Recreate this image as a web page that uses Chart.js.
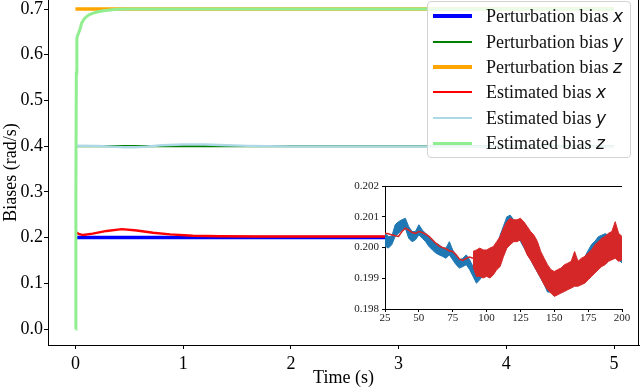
<!DOCTYPE html>
<html>
<head>
<meta charset="utf-8">
<script src="https://cdn.jsdelivr.net/npm/chart.js@4/dist/chart.umd.min.js"></script>
<style>
html,body{margin:0;padding:0;background:#fff;}
#wrap{position:relative;width:640px;height:387px;overflow:hidden;background:#fff;}
#main{position:absolute;left:0;top:0;}
#inset{position:absolute;left:340px;top:176px;}
#legend{position:absolute;left:427px;top:1px;width:204px;height:157px;border:1px solid #d3d3d3;border-radius:4px;background:rgba(255,255,255,0.8);box-sizing:border-box;}
.lrow{position:absolute;left:0;width:200px;height:22px;}
.lsample{position:absolute;left:5px;width:39px;}
.ltext{position:absolute;left:58px;top:0;height:22px;line-height:22px;font-family:"Liberation Serif","Times New Roman",serif;font-size:18px;color:#111;white-space:nowrap;}
.lvar{font-family:"DejaVu Sans",sans-serif;font-style:italic;font-size:17px;}
</style>
</head>
<body>
<div id="wrap">
  <canvas id="main" width="640" height="387"></canvas>
  <canvas id="inset" width="295" height="150"></canvas>
  <div id="legend"></div>
</div>
<script>
// ---------- main chart data ----------
const seriesNames = ['Perturbation bias', 'Perturbation bias', 'Perturbation bias', 'Estimated bias', 'Estimated bias', 'Estimated bias'];
const seriesVars = ['x', 'y', 'z', 'x', 'y', 'z'];
const seriesColors = ['#0000ff', '#008000', '#ffa500', '#ff0000', '#add8e6', '#90ee90'];

const xTicks = [0, 1, 2, 3, 4, 5];
const yTicks = [0.0, 0.1, 0.2, 0.3, 0.4, 0.5, 0.6, 0.7];

const pertT = [0, 5];
const pertX = [0.2, 0.2];
const pertY = [0.4, 0.4];
const pertZ = [0.7, 0.7];

const estXT = [0, 0.03, 0.07, 0.16, 0.29, 0.43, 0.57, 0.72, 0.88, 1.09, 1.34, 1.7, 2.2, 3, 4, 5];
const estX  = [0.212, 0.208, 0.2055, 0.2085, 0.2145, 0.2185, 0.2155, 0.2105, 0.207, 0.204, 0.203, 0.2025, 0.2025, 0.2025, 0.2025, 0.2025];

const estYT = [0, 0.2, 0.35, 0.45, 0.55, 0.65, 0.8, 1.0, 1.2, 1.4, 1.6, 2.0, 2.5, 3, 4, 5];
const estY  = [0.401, 0.4005, 0.399, 0.3975, 0.3975, 0.399, 0.402, 0.4035, 0.4035, 0.402, 0.4005, 0.3995, 0.3995, 0.3995, 0.3995, 0.3995];

const estZT = [0, 0.004, 0.008, 0.013, 0.02, 0.03, 0.045, 0.057, 0.08, 0.1, 0.13, 0.165, 0.21, 0.26, 0.32, 0.38, 0.5, 0.7, 1, 2, 3, 4, 5];
const estZ  = [0, 0.3, 0.56, 0.636, 0.642, 0.648, 0.658, 0.669, 0.678, 0.683, 0.688, 0.691, 0.694, 0.696, 0.698, 0.6995, 0.7, 0.7, 0.7, 0.7, 0.7, 0.7, 0.7];

// ---------- inset data ----------
const insetXTicks = [25, 50, 75, 100, 125, 150, 175, 200];
const insetYTicks = [0.198, 0.199, 0.200, 0.201, 0.202];

const blueT = [25, 27.5, 30, 32.5, 35, 37.5, 40, 42.5, 45, 47.5, 50, 52.5, 55, 57.5, 60, 62.5, 65, 67.5, 70, 72.5, 75, 77.5, 80, 82.5, 85, 87.5, 90, 92.5, 95, 97.5, 100, 102.5, 105, 107.5, 110, 112.5, 115, 117.5, 120, 122.5, 125, 127.5, 130, 132.5, 135, 137.5, 140, 142.5, 145, 147.5, 150, 152.5, 155, 157.5, 160, 162.5, 165, 167.5, 170, 172.5, 175, 177.5, 180, 182.5, 185, 187.5, 190, 192.5, 195, 197.5, 200];
const blueHi = [0.20046, 0.20036, 0.20036, 0.20074, 0.20084, 0.20090, 0.20095, 0.20068, 0.20052, 0.20052, 0.20074, 0.20057, 0.20046, 0.20036, 0.20025, 0.20014, 0.20009, 0.19998, 0.19998, 0.20019, 0.19992, 0.19976, 0.19960, 0.19965, 0.19976, 0.19960, 0.19938, 0.19922, 0.19938, 0.19950, 0.19960, 0.19970, 0.19980, 0.20000, 0.20040, 0.20070, 0.20100, 0.20105, 0.20090, 0.20080, 0.20070, 0.20050, 0.20030, 0.20010, 0.19990, 0.19970, 0.19950, 0.19930, 0.19900, 0.19890, 0.19890, 0.19900, 0.19910, 0.19920, 0.19930, 0.19940, 0.19940, 0.19940, 0.19950, 0.19970, 0.19990, 0.20010, 0.20020, 0.20035, 0.20040, 0.20045, 0.20040, 0.20030, 0.20020, 0.20010, 0.20000];
const blueLo = [0.20005, 0.19998, 0.20009, 0.20036, 0.20046, 0.20057, 0.20063, 0.20030, 0.20019, 0.20025, 0.20041, 0.20030, 0.20019, 0.20003, 0.19992, 0.19982, 0.19976, 0.19971, 0.19965, 0.19976, 0.19960, 0.19944, 0.19933, 0.19938, 0.19944, 0.19928, 0.19906, 0.19884, 0.19895, 0.19910, 0.19915, 0.19920, 0.19930, 0.19950, 0.19990, 0.20020, 0.20050, 0.20050, 0.20040, 0.20030, 0.20020, 0.20000, 0.19980, 0.19960, 0.19940, 0.19920, 0.19900, 0.19880, 0.19855, 0.19855, 0.19860, 0.19865, 0.19870, 0.19880, 0.19890, 0.19900, 0.19900, 0.19900, 0.19910, 0.19930, 0.19950, 0.19970, 0.19980, 0.19995, 0.20000, 0.20005, 0.20000, 0.19990, 0.19970, 0.19960, 0.19950];

const redSmoothT = [25, 27.5, 30, 32.5, 35, 37.5, 40, 42.5, 45, 47.5, 50, 52.5, 55, 57.5, 60, 62.5, 65, 67.5, 70, 72.5, 75, 77.5, 80, 82.5, 85, 87.5, 90];
const redSmooth  = [0.20046, 0.20045, 0.20041, 0.20038, 0.20036, 0.20052, 0.20063, 0.20057, 0.20049, 0.20046, 0.20052, 0.20049, 0.20043, 0.20036, 0.20025, 0.20014, 0.20005, 0.20000, 0.19996, 0.19989, 0.19987, 0.19976, 0.19962, 0.19958, 0.19965, 0.19969, 0.19965];

const redBandT = [90, 92.5, 95, 97.5, 100, 102.5, 105, 107.5, 110, 112.5, 115, 117.5, 120, 122.5, 125, 127.5, 130, 132.5, 135, 137.5, 140, 142.5, 145, 147.5, 150, 152.5, 155, 157.5, 160, 162.5, 165, 167.5, 170, 172.5, 175, 177.5, 180, 182.5, 185, 187.5, 190, 192.5, 195, 197.5, 200];
const redHi = [0.19987, 0.19992, 0.19998, 0.19992, 0.19992, 0.19998, 0.20003, 0.20019, 0.20036, 0.20063, 0.20084, 0.20095, 0.20090, 0.20090, 0.20095, 0.20084, 0.20068, 0.20052, 0.20040, 0.20020, 0.19987, 0.19965, 0.19944, 0.19928, 0.19922, 0.19928, 0.19933, 0.19944, 0.19949, 0.19955, 0.19987, 0.19955, 0.19965, 0.19971, 0.19982, 0.19992, 0.20009, 0.20019, 0.20030, 0.20036, 0.20046, 0.20052, 0.20084, 0.20046, 0.20036];
const redLo = [0.19938, 0.19906, 0.19906, 0.19901, 0.19906, 0.19901, 0.19911, 0.19928, 0.19938, 0.19971, 0.19998, 0.20009, 0.20019, 0.20019, 0.20025, 0.20003, 0.19976, 0.19960, 0.19940, 0.19920, 0.19901, 0.19879, 0.19863, 0.19852, 0.19841, 0.19846, 0.19852, 0.19857, 0.19863, 0.19868, 0.19874, 0.19874, 0.19879, 0.19884, 0.19895, 0.19906, 0.19917, 0.19928, 0.19938, 0.19944, 0.19955, 0.19960, 0.19965, 0.19955, 0.19960];

// ---------- helpers ----------
const pts = (xs, ys) => xs.map((x, i) => ({x: x, y: ys[i]}));
const SERIF = '"Liberation Serif", "Times New Roman", serif';
const seriesWidths = [3.6, 2.4, 3.6, 2.4, 2.4, 3];
const seriesData = [pts(pertT, pertX), pts(pertT, pertY), pts(pertT, pertZ), pts(estXT, estX), pts(estYT, estY), pts(estZT, estZ)];

const rightSpine = {
  id: 'rightSpine',
  afterDraw(chart) {
    const a = chart.chartArea, c = chart.ctx;
    c.save(); c.strokeStyle = '#000'; c.lineWidth = 1;
    c.beginPath(); c.moveTo(a.right - 0.5, a.top); c.lineTo(a.right - 0.5, a.bottom); c.stroke();
    c.restore();
  }
};

new Chart(document.getElementById('main'), {
  type: 'line',
  data: {
    datasets: seriesData.map((d, i) => ({
      label: seriesNames[i] + ' ' + seriesVars[i],
      data: d,
      borderColor: seriesColors[i],
      backgroundColor: seriesColors[i],
      borderWidth: seriesWidths[i],
      pointRadius: 0,
      tension: 0,
      fill: false,
      order: 10 - i,
      borderCapStyle: 'butt'
    }))
  },
  options: {
    responsive: false,
    animation: false,
    layout: {padding: {left: 0, right: 1, top: 0, bottom: 0}},
    plugins: {legend: {display: false}, tooltip: {enabled: false}},
    scales: {
      x: {
        type: 'linear', min: -0.255, max: 5.232,
        afterBuildTicks: s => { s.ticks = xTicks.map(v => ({value: v})); },
        ticks: {font: {family: SERIF, size: 18}, color: '#000', padding: 4, maxRotation: 0, autoSkip: false, callback: v => String(v)},
        grid: {display: true, drawOnChartArea: false, drawTicks: true, tickLength: 4, tickColor: '#000', tickWidth: 1},
        border: {display: true, color: '#000', width: 1},
        title: {display: true, text: 'Time (s)', color: '#000', font: {family: SERIF, size: 18, lineHeight: 1}, padding: {top: 0, bottom: 0}},
        afterFit: s => { s.height = 42; s.paddingLeft = 0; s.paddingRight = 0; }
      },
      y: {
        type: 'linear', min: -0.035, max: 0.7197,
        afterBuildTicks: s => { s.ticks = yTicks.map(v => ({value: v})); },
        ticks: {font: {family: SERIF, size: 18}, color: '#000', padding: 1, autoSkip: false, callback: v => Number(v).toFixed(1)},
        grid: {display: true, drawOnChartArea: false, drawTicks: true, tickLength: 4, tickColor: '#000', tickWidth: 1},
        border: {display: true, color: '#000', width: 1},
        title: {display: true, text: 'Biases (rad/s)', color: '#000', font: {family: SERIF, size: 18, lineHeight: 1}, padding: {top: 2, bottom: 0}},
        afterFit: s => { s.width = 48; s.paddingTop = 0; s.paddingBottom = 0; }
      }
    }
  },
  plugins: [rightSpine]
});

// ---------- inset ----------
const insetFrame = {
  id: 'insetFrame',
  beforeDraw(chart) {
    const a = chart.chartArea, c = chart.ctx;
    c.save(); c.fillStyle = '#fff';
    c.fillRect(a.left, a.top, a.right - a.left, a.bottom - a.top);
    c.restore();
  },
  afterDraw(chart) {
    const a = chart.chartArea, c = chart.ctx;
    c.save(); c.strokeStyle = '#000'; c.lineWidth = 1;
    c.beginPath(); c.moveTo(a.left, a.top + 0.5); c.lineTo(a.right, a.top + 0.5); c.stroke();
    c.restore();
  }
};

const BLUE = '#1f77b4', RED = '#d62728';
new Chart(document.getElementById('inset'), {
  type: 'line',
  data: {
    datasets: [
      {data: pts(blueT, blueHi), borderColor: BLUE, borderWidth: 1, pointRadius: 0, fill: false, order: 4},
      {data: pts(blueT, blueLo), borderColor: BLUE, backgroundColor: BLUE, borderWidth: 1, pointRadius: 0, fill: '-1', order: 3},
      {data: pts(redSmoothT, redSmooth), borderColor: RED, borderWidth: 1.6, pointRadius: 0, fill: false, order: 2},
      {data: pts(redBandT, redHi), borderColor: RED, borderWidth: 1, pointRadius: 0, fill: false, order: 1},
      {data: pts(redBandT, redLo), borderColor: RED, backgroundColor: RED, borderWidth: 1, pointRadius: 0, fill: '-1', order: 0}
    ]
  },
  options: {
    responsive: false,
    animation: false,
    layout: {padding: {left: 0, right: 13, top: 10, bottom: 0}},
    plugins: {legend: {display: false}, tooltip: {enabled: false}},
    elements: {line: {tension: 0}},
    scales: {
      x: {
        type: 'linear', min: 25, max: 200,
        afterBuildTicks: s => { s.ticks = insetXTicks.map(v => ({value: v})); },
        ticks: {font: {family: SERIF, size: 11}, color: '#222', padding: 0, maxRotation: 0, autoSkip: false, callback: v => String(v)},
        grid: {display: true, drawOnChartArea: false, drawTicks: true, tickLength: 3, tickColor: '#000', tickWidth: 1},
        border: {display: true, color: '#000', width: 1},
        afterFit: s => { s.height = 17; s.paddingLeft = 0; s.paddingRight = 0; }
      },
      y: {
        type: 'linear', min: 0.198, max: 0.202,
        afterBuildTicks: s => { s.ticks = insetYTicks.map(v => ({value: v})); },
        ticks: {font: {family: SERIF, size: 11}, color: '#222', padding: 3, autoSkip: false, callback: v => Number(v).toFixed(3)},
        grid: {display: true, drawOnChartArea: false, drawTicks: true, tickLength: 3, tickColor: '#000', tickWidth: 1},
        border: {display: true, color: '#000', width: 1},
        afterFit: s => { s.width = 45; s.paddingTop = 0; s.paddingBottom = 0; }
      }
    }
  },
  plugins: [insetFrame]
});

// ---------- legend ----------
const legend = document.getElementById('legend');
const rowCenters = [14, 40, 65, 90, 116, 141];
seriesNames.forEach((name, i) => {
  const row = document.createElement('div');
  row.className = 'lrow';
  row.style.top = (rowCenters[i] - 11) + 'px';
  const s = document.createElement('div');
  s.className = 'lsample';
  const w = seriesWidths[i];
  s.style.height = w + 'px';
  s.style.top = (11 - w / 2) + 'px';
  s.style.background = seriesColors[i];
  const t = document.createElement('div');
  t.className = 'ltext';
  t.textContent = name + ' ';
  const v = document.createElement('span');
  v.className = 'lvar';
  v.textContent = seriesVars[i];
  t.appendChild(v);
  row.appendChild(s); row.appendChild(t);
  legend.appendChild(row);
});
</script>
</body>
</html>
